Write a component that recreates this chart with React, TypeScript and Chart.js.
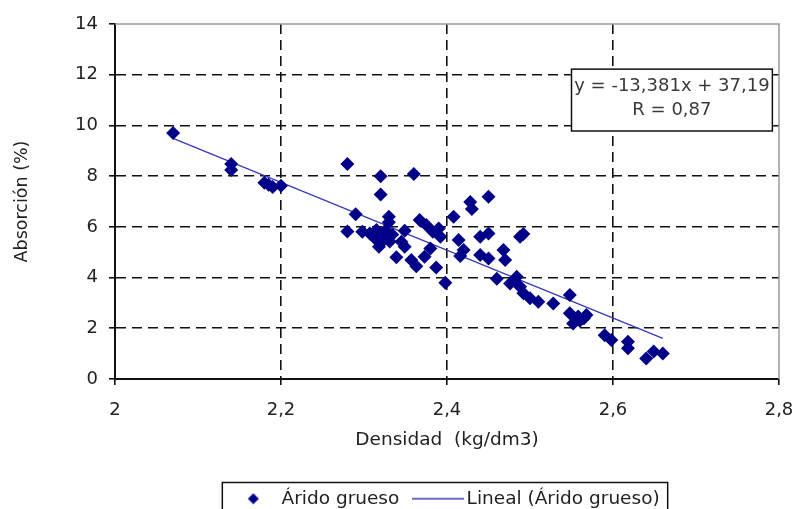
import React, { useEffect, useRef } from 'react';
import { Chart, registerables } from 'chart.js';

Chart.register(...registerables);

// Densidad (kg/dm3)
const densidad = [
  2.07, 2.14, 2.14, 2.18, 2.185, 2.19, 2.2,
  2.28, 2.32, 2.36, 2.32, 2.29, 2.33, 2.33,
  2.28, 2.298, 2.307, 2.315, 2.323, 2.318, 2.331, 2.326, 2.313, 2.334, 2.32,
  2.349, 2.345, 2.349, 2.367, 2.375, 2.339, 2.357, 2.363, 2.373, 2.38, 2.387, 2.39, 2.383, 2.392, 2.398,
  2.408, 2.428, 2.43, 2.45, 2.414, 2.42, 2.416, 2.44, 2.45, 2.44, 2.45, 2.468, 2.47, 2.488, 2.492,
  2.46, 2.484, 2.476, 2.488, 2.492, 2.5, 2.51, 2.528, 2.548,
  2.548, 2.558, 2.568, 2.552, 2.56, 2.565,
  2.59, 2.598, 2.618, 2.618, 2.64, 2.649, 2.66,
];

// Absorción (%)
const absorcion = [
  9.7, 8.48, 8.24, 7.74, 7.66, 7.57, 7.62,
  8.48, 8.0, 8.08, 7.28, 6.5, 6.4, 6.18,
  5.82, 5.81, 5.74, 5.88, 5.61, 5.22, 5.42, 5.87, 5.55, 5.7, 5.35,
  5.85, 5.41, 5.22, 6.27, 6.07, 4.8, 4.69, 4.45, 4.82, 5.15, 4.4, 5.94, 5.81, 5.61, 3.8,
  6.4, 6.98, 6.7, 7.19, 5.48, 5.09, 4.85, 5.61, 5.74, 4.89, 4.75, 5.09, 4.69, 5.61, 5.72,
  3.95, 4.03, 3.77, 3.64, 3.38, 3.18, 3.05, 2.98, 3.31,
  2.59, 2.46, 2.52, 2.19, 2.3, 2.4,
  1.73, 1.54, 1.47, 1.21, 0.81, 1.08, 1.01,
];

// Trend line end points
const trendX = [2.07, 2.66];
const trendY = [9.49, 1.6];

const xTickLabels = ['2', '2,2', '2,4', '2,6', '2,8'];
const yTickLabels = ['0', '2', '4', '6', '8', '10', '12', '14'];

const seriesLabel = 'Árido grueso';
const trendLabel = 'Lineal (Árido grueso)';
const xTitle = 'Densidad  (kg/dm3)';
const yTitle = 'Absorción (%)';
const equationLines = ['y = -13,381x + 37,19', 'R = 0,87'];
// equation box anchored in data units
const eqBoxX = [2.55, 2.792];
const eqBoxY = [9.78, 12.22];

const FONT = '"DejaVu Sans", "Liberation Sans", Arial, sans-serif';
const NAVY = '#000088';
const TREND = '#3a3ab8';
const LEGEND_FONT = 18.5;
const ICON_W = 38;
const LEGEND_PAD = 20;

export default function App() {
  const canvasRef = useRef<HTMLCanvasElement | null>(null);

  useEffect(() => {
    const canvas = canvasRef.current;
    if (!canvas) return;

    // legend icons
    const diamond = document.createElement('canvas');
    diamond.width = ICON_W;
    diamond.height = 12;
    {
      const c = diamond.getContext('2d')!;
      const cx = ICON_W / 2;
      c.fillStyle = NAVY;
      c.beginPath();
      c.moveTo(cx, 0.5);
      c.lineTo(cx + 5.5, 6);
      c.lineTo(cx, 11.5);
      c.lineTo(cx - 5.5, 6);
      c.closePath();
      c.fill();
    }
    const lineW = Math.round(ICON_W + 2 * (LEGEND_FONT / 2 - 2.5));
    const lineIcon = document.createElement('canvas');
    lineIcon.width = lineW;
    lineIcon.height = 4;
    {
      const c = lineIcon.getContext('2d')!;
      c.strokeStyle = TREND;
      c.lineWidth = 1.4;
      c.beginPath();
      c.moveTo(0, 2);
      c.lineTo(lineW, 2);
      c.stroke();
    }

    const points = densidad.map((d, i) => ({ x: d, y: absorcion[i] }));
    const trend = trendX.map((d, i) => ({ x: d, y: trendY[i] }));

    const decorPlugin = {
      id: 'decor',
      beforeDatasetsDraw(chart: any) {
        const { ctx, chartArea } = chart;
        ctx.save();
        ctx.strokeStyle = '#9a9a9a';
        ctx.lineWidth = 1.5;
        ctx.beginPath();
        ctx.moveTo(chartArea.left, chartArea.top);
        ctx.lineTo(chartArea.right, chartArea.top);
        ctx.lineTo(chartArea.right, chartArea.bottom);
        ctx.stroke();
        ctx.restore();
      },
      afterDatasetsDraw(chart: any) {
        const { ctx } = chart;
        const xs = chart.scales.x;
        const ys = chart.scales.y;
        const l = xs.getPixelForValue(eqBoxX[0]);
        const r = xs.getPixelForValue(eqBoxX[1]);
        const t = ys.getPixelForValue(eqBoxY[1]);
        const b = ys.getPixelForValue(eqBoxY[0]);
        ctx.save();
        ctx.fillStyle = '#ffffff';
        ctx.fillRect(l, t, r - l, b - t);
        ctx.strokeStyle = '#111';
        ctx.lineWidth = 1.5;
        ctx.strokeRect(l, t, r - l, b - t);
        ctx.fillStyle = '#3a3a3a';
        ctx.font = `18px ${FONT}`;
        ctx.textAlign = 'center';
        ctx.textBaseline = 'middle';
        ctx.fillText(equationLines[0], (l + r) / 2, t + (b - t) * 0.27);
        ctx.fillText(equationLines[1], (l + r) / 2, t + (b - t) * 0.67);
        ctx.restore();
      },
      afterDraw(chart: any) {
        const lg = chart.legend;
        if (!lg || !lg.legendHitBoxes || !lg.legendHitBoxes.length) return;
        const boxes = lg.legendHitBoxes;
        let minL = Infinity, maxR = -Infinity, minT = Infinity;
        boxes.forEach((h: any) => {
          minL = Math.min(minL, h.left);
          maxR = Math.max(maxR, h.left + h.width);
          minT = Math.min(minT, h.top);
        });
        const { ctx } = chart;
        ctx.save();
        ctx.strokeStyle = '#111';
        ctx.lineWidth = 1.5;
        ctx.strokeRect(minL - 12, minT - 7, maxR - minL + 20, chart.height);
        ctx.restore();
      },
    };

    const chart = new Chart(canvas, {
      type: 'scatter',
      data: {
        datasets: [
          {
            label: seriesLabel,
            data: points,
            pointStyle: 'rectRot',
            pointRadius: 7,
            pointHoverRadius: 7,
            backgroundColor: NAVY,
            borderColor: NAVY,
            borderWidth: 0,
          },
          {
            type: 'line',
            label: trendLabel,
            data: trend,
            borderColor: TREND,
            backgroundColor: TREND,
            borderWidth: 1.3,
            pointRadius: 0,
            showLine: true,
            fill: false,
          } as any,
        ],
      },
      options: {
        animation: false,
        responsive: true,
        maintainAspectRatio: false,
        layout: { padding: { top: 24, right: 14, left: 0, bottom: 0 } },
        plugins: {
          tooltip: { enabled: false },
          legend: {
            position: 'bottom',
            fullSize: false,
            labels: {
              usePointStyle: true,
              pointStyleWidth: ICON_W,
              boxHeight: 8,
              padding: LEGEND_PAD,
              color: '#222',
              font: { family: FONT, size: LEGEND_FONT },
              generateLabels: (ch: any) => {
                const items = Chart.defaults.plugins.legend.labels.generateLabels(ch);
                return items.map((it: any, i: number) => ({
                  ...it,
                  pointStyle: i === 0 ? diamond : lineIcon,
                }));
              },
            },
          },
        },
        scales: {
          x: {
            type: 'linear',
            min: 2,
            max: 2.8,
            afterFit: (s: any) => {
              s.height = 518 - (LEGEND_FONT + LEGEND_PAD + 10) - 379;
              s.paddingRight = 14;
              s.paddingLeft = 8;
            },
            ticks: {
              stepSize: 0.2,
              color: '#222',
              padding: 15,
              maxRotation: 0,
              font: { family: FONT, size: 18 },
              callback: (_v: any, i: number) => xTickLabels[i],
            },
            grid: {
              color: (c: any) => (c.index === xTickLabels.length - 1 ? 'rgba(0,0,0,0)' : '#111'),
              tickColor: '#111',
              lineWidth: 1.6,
              tickLength: 6,
            },
            border: { display: true, color: '#111', width: 2, dash: [10, 6] },
            title: {
              display: true,
              text: xTitle,
              color: '#222',
              font: { family: FONT, size: 18.5 },
              padding: { top: 0, bottom: 18 },
            },
          },
          y: {
            type: 'linear',
            min: 0,
            max: 14,
            afterFit: (s: any) => {
              s.width = 115;
            },
            ticks: {
              stepSize: 2,
              color: '#222',
              padding: 11,
              font: { family: FONT, size: 18 },
              callback: (_v: any, i: number) => yTickLabels[i],
            },
            grid: {
              color: (c: any) => (c.index === yTickLabels.length - 1 ? 'rgba(0,0,0,0)' : '#111'),
              tickColor: '#111',
              lineWidth: 1.6,
              tickLength: 6,
            },
            border: { display: true, color: '#111', width: 2, dash: [10, 6] },
            title: {
              display: true,
              text: yTitle,
              color: '#222',
              font: { family: FONT, size: 17.5 },
              padding: { top: 11.5, bottom: 0 },
            },
          },
        },
      },
      plugins: [decorPlugin],
    });

    return () => chart.destroy();
  }, []);

  return (
    <div
      style={{
        position: 'fixed',
        left: 0,
        top: 0,
        width: 793,
        height: 509,
        overflow: 'hidden',
        background: '#fff',
      }}
    >
      <div style={{ position: 'relative', width: 793, height: 518 }}>
        <canvas ref={canvasRef} />
      </div>
    </div>
  );
}
